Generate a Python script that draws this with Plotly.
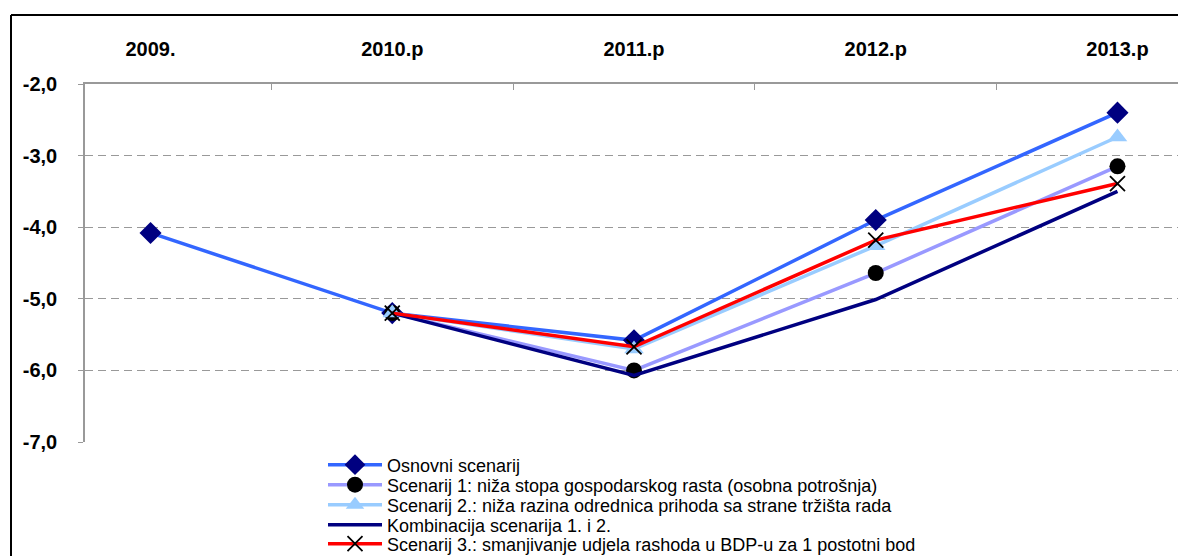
import plotly.graph_objects as go

years = ["2009.", "2010.p", "2011.p", "2012.p", "2013.p"]
y_labels = ["-2,0", "-3,0", "-4,0", "-5,0", "-6,0", "-7,0"]

names = [
    "Osnovni scenarij",
    "Scenarij 1: niža stopa gospodarskog rasta (osobna potrošnja)",
    "Scenarij 2.: niža razina odrednica prihoda sa strane tržišta rada",
    "Kombinacija scenarija 1. i 2.",
    "Scenarij 3.: smanjivanje udjela rashoda u BDP-u za 1 postotni bod",
]

osnovni = [-4.08, -5.2, -5.58, -3.90, -2.40]
scen1 = [None, -5.2, -6.00, -4.64, -3.15]
scen2 = [None, -5.2, -5.70, -4.26, -2.74]
kombin = [None, -5.2, -6.07, -5.01, -3.50]
scen3 = [None, -5.2, -5.67, -4.18, -3.39]

series = [osnovni, scen1, scen2, kombin, scen3]
line_colors = ["#3366FF", "#9999FF", "#99CCFF", "#000080", "#FF0000"]
marker_symbols = ["diamond", "circle", "triangle-up", None, "x-thin-open"]
marker_colors = ["#000080", "#000000", "#99CCFF", None, "#000000"]
marker_sizes = [17, 16, 17, 0, 15]

# page layout (pixels in the 1186x556 window); the page body adds an 8px offset
OFF = 8
FIG_W, FIG_H = 1186 - OFF, 556 - OFF
PLOT_LEFT, PLOT_RIGHT, PLOT_TOP, PLOT_BOTTOM = 85 - OFF, 1183 - OFF, 84 - OFF, 442 - OFF
PLOT_W, PLOT_H = PLOT_RIGHT - PLOT_LEFT, PLOT_BOTTOM - PLOT_TOP


def px_x(p):
    return (p - OFF - PLOT_LEFT) / PLOT_W


def px_y(p):
    return (PLOT_BOTTOM - (p - OFF)) / PLOT_H


legend_rows_px = [465, 485, 505, 525, 544]

fig = go.Figure()
legend_layout = {}
for i, (name, vals, lc, sym, mc, ms) in enumerate(zip(names, series, line_colors, marker_symbols, marker_colors, marker_sizes)):
    lname = "legend" if i == 0 else f"legend{i + 1}"
    if sym is None:
        fig.add_trace(go.Scatter(x=years, y=vals, name=name, mode="lines",
                                 line=dict(color=lc, width=3.5), legend=lname))
    else:
        marker = dict(symbol=sym, color=mc, size=ms)
        if sym == "x-thin-open":
            marker["line"] = dict(color=mc, width=1.8)
        fig.add_trace(go.Scatter(x=years, y=vals, name=name, mode="lines+markers",
                                 line=dict(color=lc, width=3.5), marker=marker, legend=lname))
    legend_layout[lname] = dict(
        x=px_x(323), xanchor="left",
        y=px_y(legend_rows_px[i]), yanchor="middle",
        bgcolor="rgba(0,0,0,0)", borderwidth=0,
        font=dict(size=18, color="black", family="Liberation Sans, Arial, sans-serif"),
        itemwidth=54,
    )

fig.update_layout(
    width=FIG_W, height=FIG_H,
    margin=dict(l=PLOT_LEFT, r=FIG_W - PLOT_RIGHT, t=PLOT_TOP, b=FIG_H - PLOT_BOTTOM, autoexpand=False),
    paper_bgcolor="white", plot_bgcolor="white",
    font=dict(family="Liberation Sans, Arial, sans-serif", color="black"),
    showlegend=True,
    xaxis=dict(
        side="top", type="category",
        showline=True, linecolor="#999999", linewidth=1.5,
        ticks="inside", tickson="boundaries", ticklen=6, tickcolor="#999999",
        showgrid=False, zeroline=False,
        tickfont=dict(size=20, family="Liberation Sans, Arial, sans-serif", color="black", weight="bold"),
        ticklabelstandoff=18,
    ),
    yaxis=dict(
        range=[-7, -2], tickvals=[-2, -3, -4, -5, -6, -7], ticktext=y_labels,
        showline=True, linecolor="#999999", linewidth=1.5,
        ticks="outside", ticklen=5, tickcolor="#999999",
        showgrid=True, gridcolor="#999999", gridwidth=1, griddash="8px,5px",
        zeroline=False,
        tickfont=dict(size=20, family="Liberation Sans, Arial, sans-serif", color="black", weight="bold"),
        ticklabelstandoff=17,
    ),
    shapes=[
        dict(type="line", xref="paper", yref="paper",
             x0=px_x(11), x1=1.05, y0=px_y(15), y1=px_y(15),
             line=dict(color="black", width=2)),
        dict(type="line", xref="paper", yref="paper",
             x0=px_x(11), x1=px_x(11), y0=-0.5, y1=px_y(15),
             line=dict(color="black", width=2)),
    ],
    **legend_layout,
)

fig.write_html("out.html")
